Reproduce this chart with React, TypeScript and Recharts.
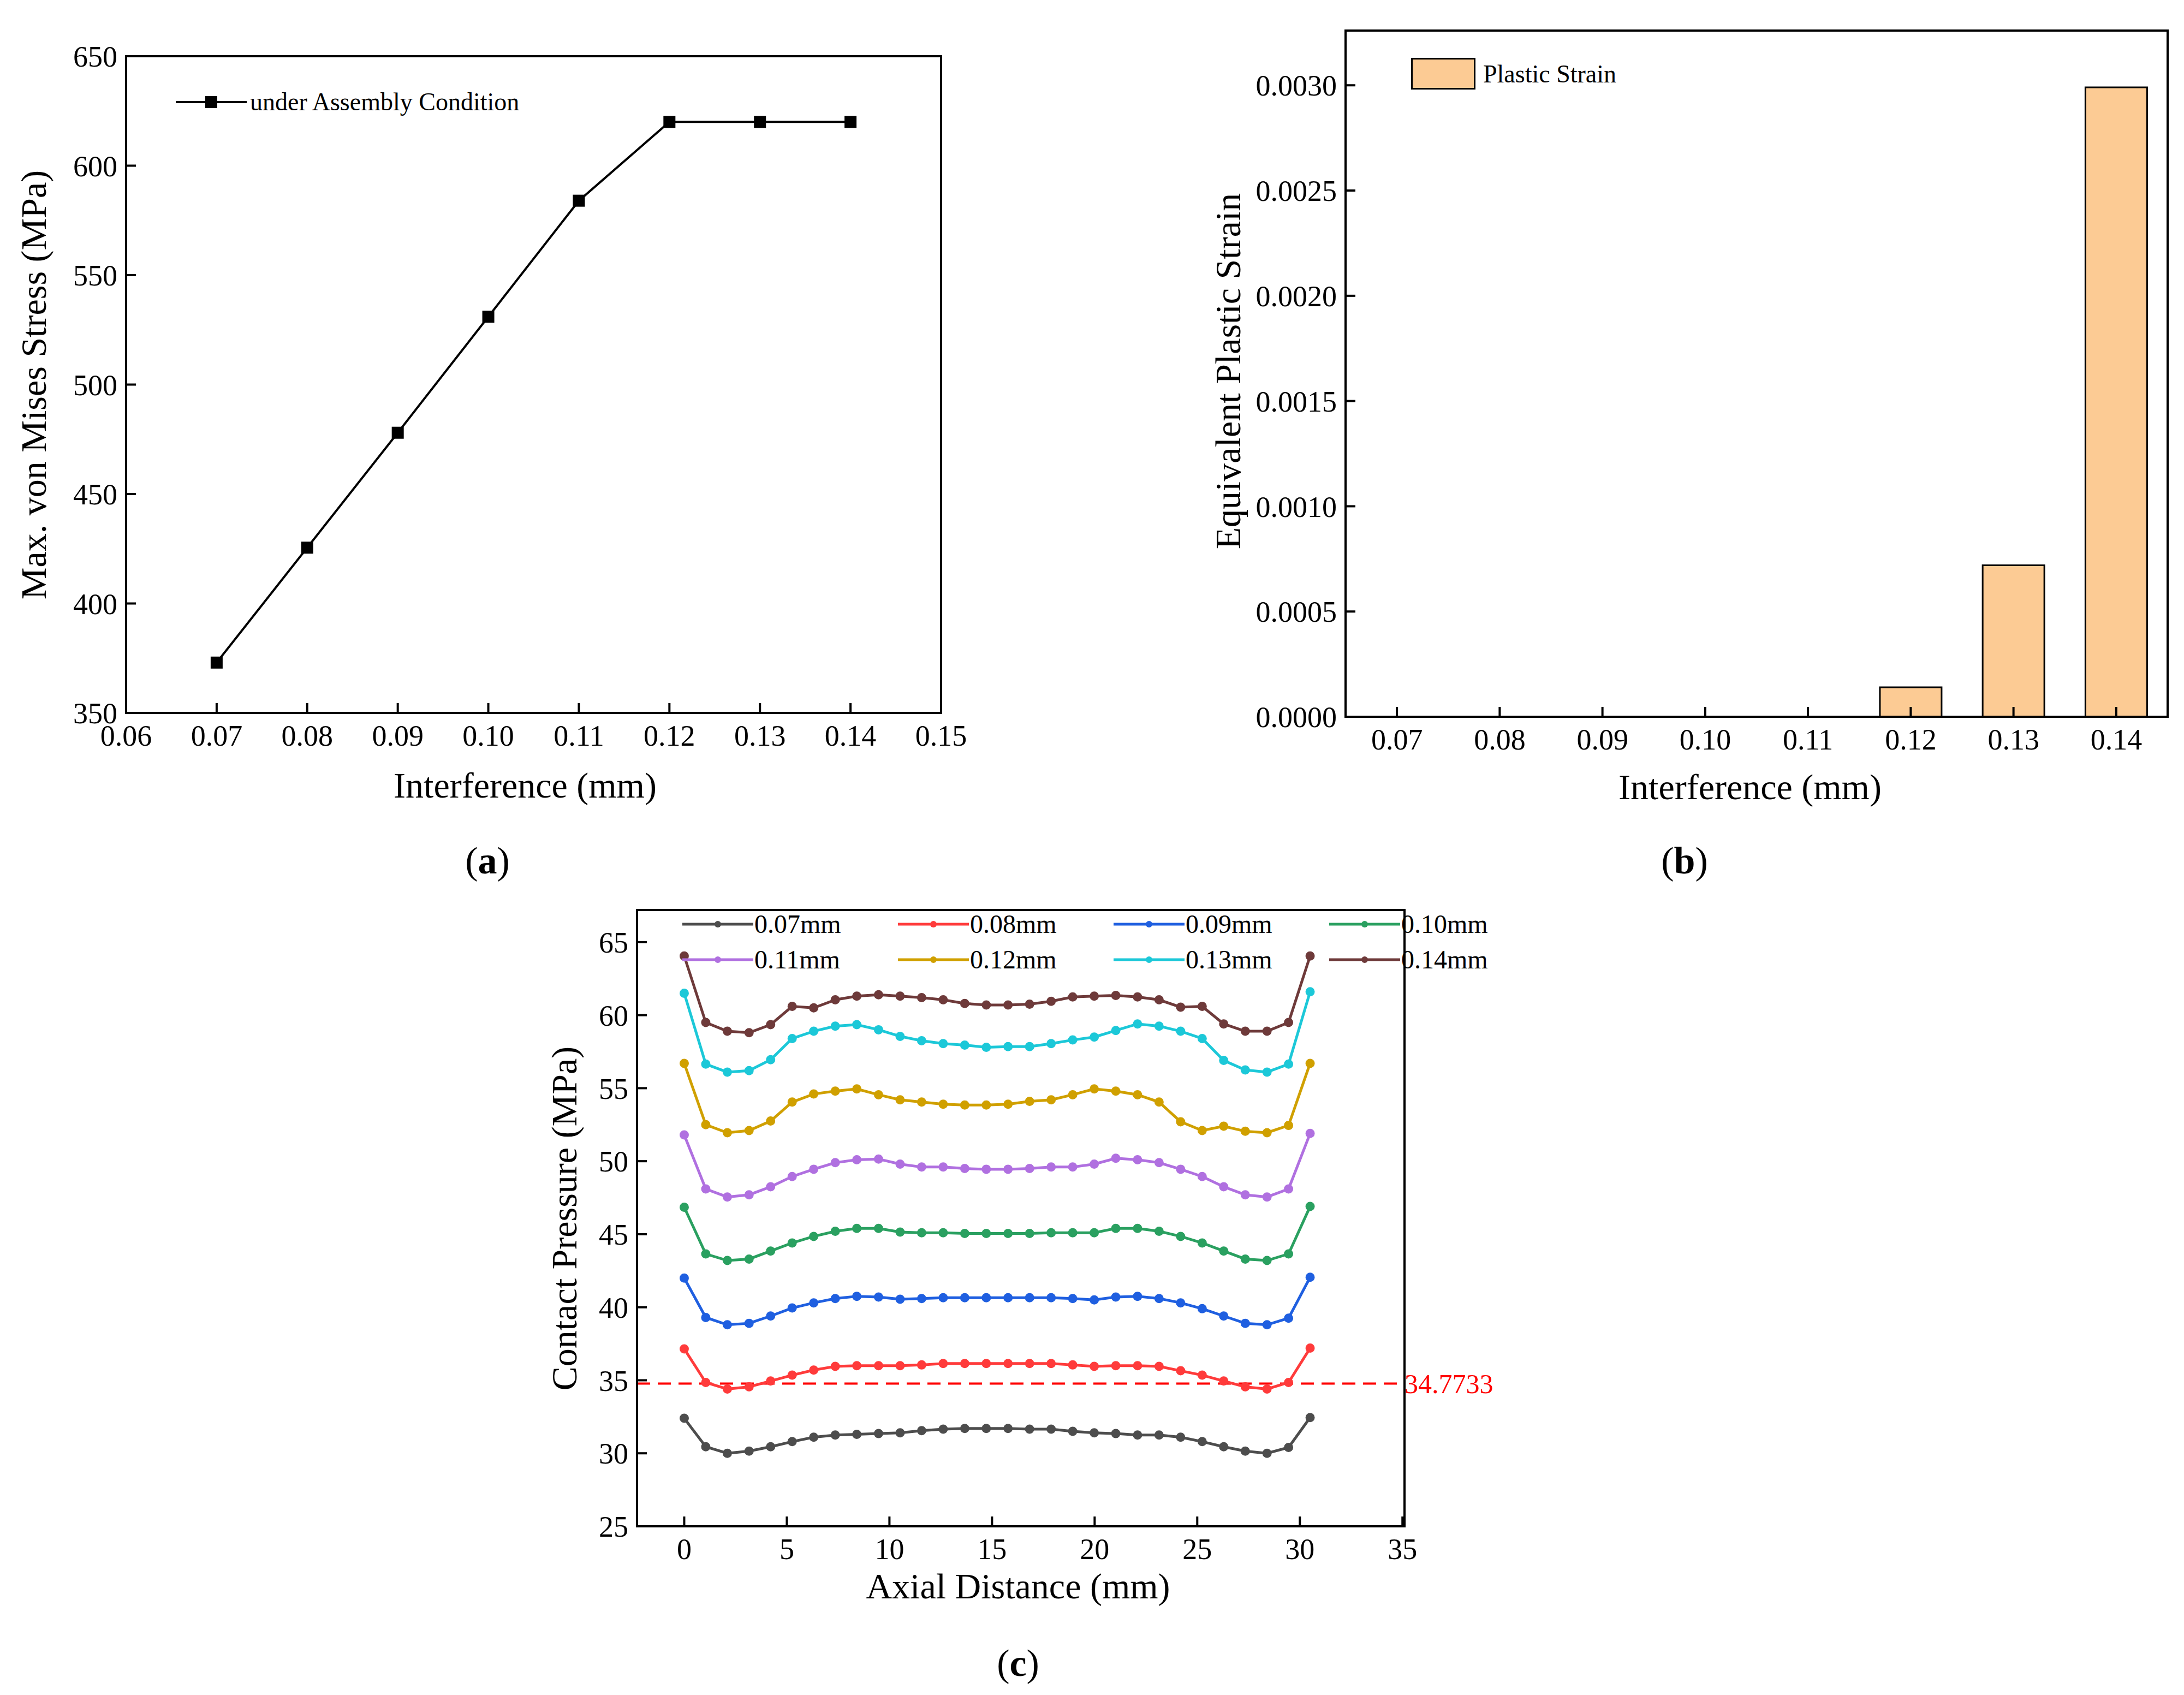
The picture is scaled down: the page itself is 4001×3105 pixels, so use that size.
import React from 'react';
import { LineChart, Line, BarChart, Bar, XAxis, YAxis, ReferenceLine } from 'recharts';

const interference = [0.07, 0.08, 0.09, 0.1, 0.11, 0.12, 0.13, 0.14];
const maxStress = [373, 425.5, 478, 531, 584, 620, 620, 620];
const plasticStrain = [0, 0, 0, 0, 0, 0.00014, 0.00072, 0.00299];

const axial = [0, 1.05, 2.1, 3.16, 4.21, 5.26, 6.31, 7.36, 8.41, 9.47, 10.52, 11.57, 12.62, 13.67, 14.72,
  15.78, 16.83, 17.88, 18.93, 19.98, 21.03, 22.09, 23.14, 24.19, 25.24, 26.29, 27.34, 28.4, 29.45, 30.5];
const p007 = [32.4, 30.45, 30.0, 30.15, 30.45, 30.8, 31.1, 31.25, 31.3, 31.35, 31.4, 31.55, 31.65, 31.7, 31.7, 31.7, 31.65, 31.65, 31.5, 31.4, 31.35, 31.25, 31.25, 31.1, 30.8, 30.45, 30.15, 30.0, 30.4, 32.45];
const p008 = [37.15, 34.85, 34.4, 34.55, 34.95, 35.35, 35.7, 35.95, 36.0, 36.0, 36.0, 36.05, 36.15, 36.15, 36.15, 36.15, 36.15, 36.15, 36.05, 35.95, 36.0, 36.0, 35.95, 35.65, 35.35, 34.95, 34.55, 34.4, 34.85, 37.2];
const p009 = [42.0, 39.3, 38.8, 38.9, 39.4, 39.95, 40.3, 40.6, 40.75, 40.7, 40.55, 40.6, 40.65, 40.65, 40.65, 40.65, 40.65, 40.65, 40.6, 40.5, 40.7, 40.75, 40.6, 40.3, 39.9, 39.4, 38.9, 38.8, 39.25, 42.05];
const p010 = [46.85, 43.65, 43.2, 43.3, 43.85, 44.4, 44.85, 45.2, 45.4, 45.4, 45.15, 45.1, 45.1, 45.05, 45.05, 45.05, 45.05, 45.1, 45.1, 45.1, 45.4, 45.4, 45.2, 44.85, 44.4, 43.85, 43.3, 43.2, 43.65, 46.9];
const p011 = [51.8, 48.1, 47.55, 47.7, 48.25, 48.95, 49.45, 49.9, 50.1, 50.15, 49.8, 49.6, 49.6, 49.5, 49.45, 49.45, 49.5, 49.6, 49.6, 49.8, 50.2, 50.1, 49.9, 49.45, 48.95, 48.25, 47.7, 47.55, 48.1, 51.9];
const p012 = [56.7, 52.5, 51.95, 52.1, 52.75, 54.05, 54.6, 54.8, 54.95, 54.55, 54.2, 54.05, 53.9, 53.85, 53.85, 53.9, 54.1, 54.2, 54.55, 54.95, 54.8, 54.55, 54.05, 52.7, 52.1, 52.4, 52.05, 51.95, 52.45, 56.7];
const p013 = [61.5, 56.65, 56.1, 56.2, 56.95, 58.4, 58.9, 59.25, 59.35, 59.0, 58.55, 58.25, 58.05, 57.95, 57.8, 57.85, 57.85, 58.05, 58.3, 58.5, 58.95, 59.4, 59.25, 58.9, 58.4, 56.9, 56.25, 56.1, 56.65, 61.6];
const p014 = [64.05, 59.5, 58.9, 58.8, 59.35, 60.6, 60.5, 61.05, 61.3, 61.4, 61.3, 61.2, 61.05, 60.8, 60.7, 60.7, 60.75, 60.95, 61.25, 61.3, 61.35, 61.25, 61.05, 60.55, 60.6, 59.4, 58.9, 58.9, 59.5, 64.05];

const seriesNames = ['0.07mm', '0.08mm', '0.09mm', '0.10mm', '0.11mm', '0.12mm', '0.13mm', '0.14mm'];
const seriesValues = [p007, p008, p009, p010, p011, p012, p013, p014];
const seriesColors = ['#4d4d4d', '#ff3b3b', '#1f5fe0', '#2aa060', '#b070e0', '#d0a000', '#1cc8d8', '#6e3a3a'];
const contactLimit = 34.7733;

const FONT = '"Liberation Serif", "DejaVu Serif", serif';
const tickStyle = { fontSize: 54, fill: '#000', fontFamily: FONT };

const stressData = interference.map((x, i) => ({ x, y: maxStress[i] }));
const strainData = interference.map((x, i) => ({ x: x.toFixed(2), y: plasticStrain[i] }));
const pressureData = axial.map((x, i) => {
  const row: Record<string, number> = { x };
  seriesNames.forEach((n, k) => (row[n] = seriesValues[k][i]));
  return row;
});

const SquareDot = (props: any) => {
  const { cx, cy } = props;
  return <rect x={cx - 11} y={cy - 11} width={22} height={22} fill="#000" />;
};

const Txt = ({ x, y, size, rotate, children, color }: any) => (
  <div
    style={{
      position: 'absolute', left: x, top: y, fontFamily: FONT, fontSize: size, color: color || '#000',
      whiteSpace: 'nowrap', transform: `translate(-50%, -50%)${rotate ? ' rotate(-90deg)' : ''}`,
    }}
  >
    {children}
  </div>
);

const Frame = ({ x, y, w, h }: any) => (
  <div style={{ position: 'absolute', left: x - 2, top: y - 2, width: w + 4, height: h + 4, border: '4px solid #000',
    boxSizing: 'border-box', pointerEvents: 'none' }} />
);

const axisLine = { stroke: '#000', strokeWidth: 4 };
const tickLine = { stroke: '#000', strokeWidth: 4 };

export default function App() {
  return (
    <div style={{ position: 'absolute', left: 0, top: 0, width: 4001, height: 3105, background: '#fff' }}>
      {/* (a) */}
      <div style={{ position: 'absolute', left: 0, top: 0 }}>
        <LineChart width={1800} height={1500} data={stressData} margin={{ top: 103, right: 76, left: 0, bottom: 0 }}>
          <XAxis dataKey="x" type="number" domain={[0.06, 0.15]} ticks={[0.06, 0.07, 0.08, 0.09, 0.1, 0.11, 0.12, 0.13, 0.14, 0.15]}
            tickFormatter={(v: number) => v.toFixed(2)} height={194} tick={tickStyle} axisLine={axisLine}
            tickLine={tickLine} tickSize={-18} tickMargin={40} />
          <YAxis type="number" domain={[350, 650]} ticks={[350, 400, 450, 500, 550, 600, 650]} width={231} tick={tickStyle}
            axisLine={axisLine} tickLine={tickLine} tickSize={-18} tickMargin={34} />
          <Line dataKey="y" stroke="#000" strokeWidth={4} dot={<SquareDot />} isAnimationActive={false} />
        </LineChart>
      </div>
      <Frame x={231} y={103} w={1493} h={1203} />
      <div style={{ position: 'absolute', left: 322, top: 160, display: 'flex', alignItems: 'center' }}>
        <svg width={130} height={30}><line x1={0} y1={15} x2={130} y2={15} stroke="#000" strokeWidth={4} /><rect x={54} y={4} width={22} height={22} fill="#000" /></svg>
        <span style={{ fontFamily: FONT, fontSize: 46, marginLeft: 6 }}>under Assembly Condition</span>
      </div>
      <Txt x={62} y={705} size={66} rotate>Max. von Mises Stress (MPa)</Txt>
      <Txt x={962} y={1439} size={66}>Interference (mm)</Txt>
      <Txt x={893} y={1577} size={70}>(<b>a</b>)</Txt>

      {/* (b) */}
      <div style={{ position: 'absolute', left: 2150, top: 0 }}>
        <BarChart width={1851} height={1500} data={strainData} margin={{ top: 56, right: 30, left: 0, bottom: 0 }} barCategoryGap="20%">
          <XAxis dataKey="x" height={187} tick={tickStyle} axisLine={axisLine} tickLine={tickLine} tickSize={-18} tickMargin={40} />
          <YAxis type="number" domain={[0, 0.00326]} ticks={[0, 0.0005, 0.001, 0.0015, 0.002, 0.0025, 0.003]} tickFormatter={(v: number) => v.toFixed(4)}
            width={315} tick={tickStyle} axisLine={axisLine} tickLine={tickLine} tickSize={-18} tickMargin={34} allowDataOverflow />
          <Bar dataKey="y" fill="#FCCB94" stroke="#000" strokeWidth={3} isAnimationActive={false} />
        </BarChart>
      </div>
      <Frame x={2465} y={56} w={1506} h={1257} />
      <div style={{ position: 'absolute', left: 2585, top: 106, display: 'flex', alignItems: 'center' }}>
        <div style={{ width: 118, height: 58, background: '#FCCB94', border: '3px solid #000', boxSizing: 'border-box' }} />
        <span style={{ fontFamily: FONT, fontSize: 46, marginLeft: 14 }}>Plastic Strain</span>
      </div>
      <Txt x={2250} y={680} size={66} rotate>Equivalent Plastic Strain</Txt>
      <Txt x={3206} y={1442} size={66}>Interference (mm)</Txt>
      <Txt x={3086} y={1577} size={70}>(<b>b</b>)</Txt>

      {/* (c) */}
      <div style={{ position: 'absolute', left: 950, top: 1550 }}>
        <LineChart width={1900} height={1400} data={pressureData} margin={{ top: 117, right: 277, left: 0, bottom: 0 }}>
          <XAxis dataKey="x" type="number" domain={[-2.3, 35.1]} ticks={[0, 5, 10, 15, 20, 25, 30, 35]} allowDataOverflow height={154}
            tick={tickStyle} axisLine={axisLine} tickLine={tickLine} tickSize={-18} tickMargin={40} />
          <YAxis type="number" domain={[25, 67.2]} ticks={[25, 30, 35, 40, 45, 50, 55, 60, 65]} allowDataOverflow width={217}
            tick={tickStyle} axisLine={axisLine} tickLine={tickLine} tickSize={-18} tickMargin={34} />
          <ReferenceLine y={contactLimit} stroke="#ff0000" strokeWidth={4} strokeDasharray="24 14"
            label={{ value: '34.7733', position: 'right', fill: '#ff0000', fontSize: 50, fontFamily: FONT, offset: 0 }} />
          {seriesNames.map((n, k) => (
            <Line key={n} dataKey={n} stroke={seriesColors[k]} strokeWidth={5}
              dot={{ r: 6, fill: seriesColors[k], stroke: seriesColors[k] }} isAnimationActive={false} />
          ))}
        </LineChart>
      </div>
      <Frame x={1167} y={1667} w={1406} h={1129} />
      {seriesNames.map((n, k) => (
        <div key={n} style={{ position: 'absolute', left: 1250 + (k % 4) * 395, top: 1690 + Math.floor(k / 4) * 65 - 25,
          display: 'flex', alignItems: 'center' }}>
          <svg width={130} height={50}><line x1={0} y1={25} x2={130} y2={25} stroke={seriesColors[k]} strokeWidth={5} /><circle cx={65} cy={25} r={6} fill={seriesColors[k]} /></svg>
          <span style={{ fontFamily: FONT, fontSize: 48, marginLeft: 2 }}>{n}</span>
        </div>
      ))}
      <Txt x={1034} y={2232} size={66} rotate>Contact Pressure (MPa)</Txt>
      <Txt x={1865} y={2906} size={66}>Axial Distance (mm)</Txt>
      <Txt x={1865} y={3047} size={70}>(<b>c</b>)</Txt>
    </div>
  );
}
